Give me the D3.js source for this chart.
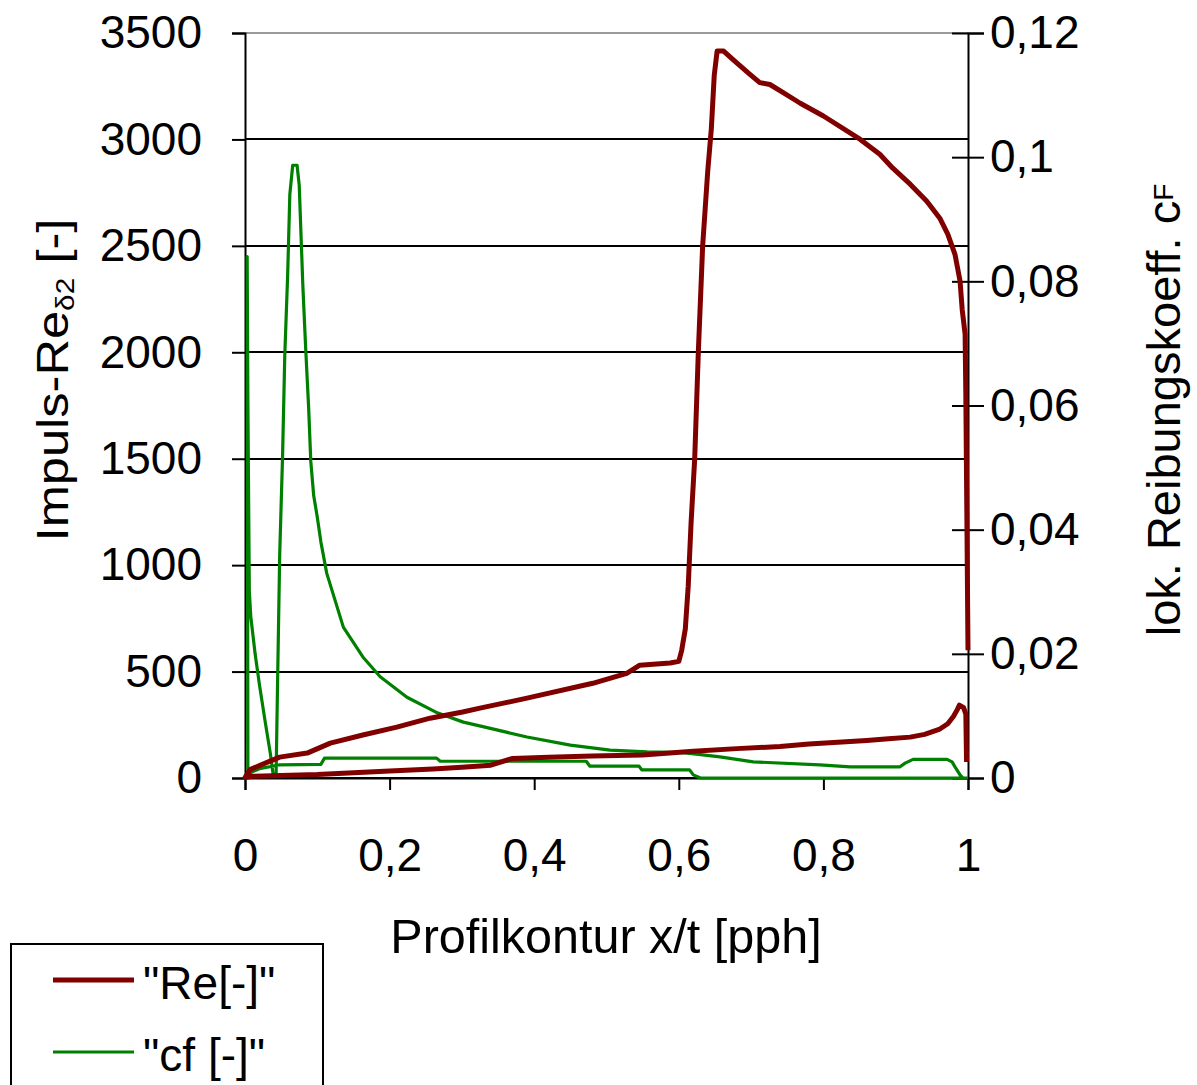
<!DOCTYPE html>
<html>
<head>
<meta charset="utf-8">
<script src="https://cdn.jsdelivr.net/npm/d3@7/dist/d3.min.js"></script>
<style>
  html, body { margin: 0; padding: 0; background: #fff; }
  svg { display: block; }
  text { font-family: "Liberation Sans", Arial, sans-serif; fill: #000; }
</style>
</head>
<body>
<svg id="chart" width="1197" height="1085"></svg>
<script>
// x/t positions and momentum Reynolds number, pressure side (trailing edge -> leading edge)
const rePressure = [
  [0.998, 75], [0.997, 300], [0.994, 330], [0.988, 342], [0.985, 320], [0.980, 290],
  [0.972, 255], [0.960, 228], [0.940, 205], [0.920, 192], [0.890, 184], [0.860, 176],
  [0.820, 168], [0.780, 160], [0.740, 148], [0.680, 138], [0.620, 126], [0.550, 108],
  [0.480, 103], [0.420, 98], [0.370, 92], [0.340, 60], [0.300, 50], [0.260, 42],
  [0.200, 33], [0.150, 25], [0.100, 16], [0.050, 12], [0.010, 8], [0.000, 2]
];
// suction side (leading edge -> trailing edge)
const reSuction = [
  [0.000, 2], [0.007, 40], [0.048, 98], [0.086, 117], [0.118, 164], [0.163, 202],
  [0.210, 239], [0.256, 281], [0.301, 310], [0.325, 328], [0.390, 375], [0.481, 445],
  [0.528, 492], [0.546, 530], [0.588, 540], [0.600, 548], [0.604, 600], [0.609, 700],
  [0.613, 900], [0.617, 1200], [0.622, 1500], [0.627, 2000], [0.633, 2500], [0.640, 2850],
  [0.645, 3050], [0.649, 3300], [0.653, 3415], [0.662, 3415], [0.675, 3375], [0.698, 3307],
  [0.712, 3267], [0.726, 3258], [0.745, 3219], [0.768, 3170], [0.800, 3110], [0.851, 3000],
  [0.878, 2930], [0.896, 2865], [0.920, 2790], [0.943, 2710], [0.961, 2630], [0.972, 2555],
  [0.982, 2460], [0.989, 2335], [0.992, 2200], [0.996, 2085], [0.997, 1800], [0.998, 1400],
  [0.999, 1000], [1.000, 600]
];
// local skin-friction coefficient, side A (trailing edge -> leading edge)
const cfSideA = [
  [1.000, 0], [0.630, 0], [0.620, 0.0005], [0.615, 0.0013], [0.549, 0.0013], [0.545, 0.0019],
  [0.477, 0.0019], [0.472, 0.0027], [0.270, 0.0027], [0.265, 0.0032], [0.110, 0.0032],
  [0.105, 0.0022], [0.047, 0.0021], [0.020, 0.0015], [0.010, 0.0010], [0.004, 0.0005]
];
// side B (leading edge -> trailing edge)
const cfSideB = [
  [0.003, 0.084], [0.004, 0.060], [0.006, 0.030], [0.008, 0.026], [0.014, 0.020],
  [0.020, 0.015], [0.028, 0.009], [0.035, 0.004], [0.039, 0.0005], [0.043, 0.0003],
  [0.045, 0.015], [0.048, 0.036], [0.052, 0.052], [0.055, 0.068], [0.059, 0.081],
  [0.062, 0.094], [0.066, 0.0987], [0.072, 0.0987], [0.075, 0.0955], [0.080, 0.0793],
  [0.084, 0.069], [0.088, 0.0597], [0.091, 0.051], [0.095, 0.0455], [0.100, 0.042],
  [0.105, 0.038], [0.113, 0.033], [0.136, 0.0243], [0.163, 0.0195], [0.187, 0.0163],
  [0.224, 0.013], [0.266, 0.0105], [0.302, 0.009], [0.332, 0.0082], [0.390, 0.0066],
  [0.450, 0.0053], [0.505, 0.0045], [0.556, 0.0042], [0.606, 0.0041], [0.657, 0.0034],
  [0.703, 0.0026], [0.795, 0.0021], [0.837, 0.0018], [0.906, 0.0018], [0.913, 0.0024],
  [0.924, 0.0030], [0.971, 0.0030], [0.978, 0.0026], [0.982, 0.0018], [0.989, 0.0005],
  [0.993, 0], [1.000, 0]
];

const xTicks = [0, 0.2, 0.4, 0.6, 0.8, 1];
const leftTicks = [0, 500, 1000, 1500, 2000, 2500, 3000, 3500];
const rightTicks = [0, 0.02, 0.04, 0.06, 0.08, 0.1, 0.12];
const seriesNames = ['"Re[-]"', '"cf [-]"'];
const seriesColors = ["#800000", "#008000"];

const plot = { left: 245, right: 968, top: 33, bottom: 778 };
const FS = 46;

const svg = d3.select("#chart");
const x = d3.scaleLinear().domain([0, 1]).range([plot.left, plot.right]);
const yL = d3.scaleLinear().domain([0, 3500]).range([plot.bottom, plot.top]);
const yR = d3.scaleLinear().domain([0, 0.12]).range([plot.bottom, plot.top]);

const locale = d3.formatLocale({ decimal: ",", thousands: ".", grouping: [3], currency: ["", "€"] });
const fmt = locale.format("~g");

// horizontal grid lines on the left-axis ticks
svg.append("g").selectAll("line")
  .data(leftTicks)
  .join("line")
  .attr("x1", plot.left).attr("x2", plot.right)
  .attr("y1", d => Math.round(yL(d))).attr("y2", d => Math.round(yL(d)))
  .attr("stroke", d => d === 3500 ? "#9a9a9a" : "#000")
  .attr("stroke-width", 2);

// left axis
const gL = svg.append("g").attr("transform", `translate(${plot.left},0)`)
  .call(d3.axisLeft(yL).tickValues(leftTicks).tickFormat(fmt).tickSize(13).tickPadding(30));
gL.select(".domain").attr("stroke", "#000").attr("stroke-width", 2);
gL.selectAll(".tick line").attr("stroke", "#000").attr("stroke-width", 2);
gL.selectAll(".tick text").attr("font-size", FS).attr("font-family", "Liberation Sans, Arial").attr("fill", "#000");

// right axis: ticks cross the axis line
const gR = svg.append("g").attr("transform", `translate(${plot.right},0)`)
  .call(d3.axisRight(yR).tickValues(rightTicks).tickFormat(fmt).tickSize(16).tickPadding(6));
gR.select(".domain").attr("stroke", "#000").attr("stroke-width", 2);
gR.selectAll(".tick line").attr("x1", -16).attr("stroke", "#000").attr("stroke-width", 2);
gR.selectAll(".tick text").attr("font-size", FS).attr("font-family", "Liberation Sans, Arial").attr("fill", "#000");

// bottom axis
const gB = svg.append("g").attr("transform", `translate(0,${plot.bottom})`)
  .call(d3.axisBottom(x).tickValues(xTicks).tickFormat(fmt).tickSize(12).tickPadding(48));
gB.select(".domain").attr("stroke", "#000").attr("stroke-width", 2);
gB.selectAll(".tick line").attr("stroke", "#000").attr("stroke-width", 2);
gB.selectAll(".tick text").attr("font-size", FS).attr("font-family", "Liberation Sans, Arial").attr("fill", "#000");

// curves
svg.append("defs").append("clipPath").attr("id", "plotClip")
  .append("rect").attr("x", plot.left - 4).attr("y", plot.top - 4)
  .attr("width", plot.right - plot.left + 8).attr("height", plot.bottom - plot.top + 8);

const lineRe = d3.line().x(d => x(d[0])).y(d => yL(d[1]));
const lineCf = d3.line().x(d => x(d[0])).y(d => yR(d[1]));
const curves = svg.append("g").attr("clip-path", "url(#plotClip)");

curves.append("path")
  .datum(cfSideA.concat(cfSideB))
  .attr("d", lineCf)
  .attr("fill", "none").attr("stroke", seriesColors[1]).attr("stroke-width", 3.2)
  .attr("stroke-linejoin", "round");

curves.append("path")
  .datum(rePressure.concat(reSuction))
  .attr("d", lineRe)
  .attr("fill", "none").attr("stroke", seriesColors[0]).attr("stroke-width", 5)
  .attr("stroke-linejoin", "round");

// axis titles
svg.append("text")
  .attr("transform", "translate(606,953)")
  .attr("text-anchor", "middle").attr("font-size", 48.5)
  .text("Profilkontur x/t [pph]");

const tL = svg.append("text")
  .attr("transform", "translate(68,380) rotate(-90) scale(1.15,1)")
  .attr("text-anchor", "middle").attr("font-size", FS - 2);
tL.append("tspan").text("Impuls-Re");
tL.append("tspan").attr("font-size", 26).attr("dy", 6).text("δ2");
tL.append("tspan").attr("dy", -6).text(" [-]");

const tR = svg.append("text")
  .attr("transform", "translate(1180,410) rotate(-90)")
  .attr("text-anchor", "middle").attr("font-size", 47);
tR.append("tspan").text("lok. Reibungskoeff. c");
tR.append("tspan").attr("font-size", 28).attr("dy", -7).text("F");

// legend
const legend = svg.append("g");
legend.append("rect")
  .attr("x", 11).attr("y", 944).attr("width", 312).attr("height", 200)
  .attr("fill", "#fff").attr("stroke", "#000").attr("stroke-width", 2);
const legendRows = legend.selectAll("g.row")
  .data(seriesNames)
  .join("g").attr("class", "row")
  .attr("transform", (d, i) => `translate(0,${980 + i * 72})`);
legendRows.append("line")
  .attr("x1", 53).attr("x2", 134).attr("y1", 0).attr("y2", 0)
  .attr("stroke", (d, i) => seriesColors[i])
  .attr("stroke-width", (d, i) => i === 0 ? 5 : 3.2);
legendRows.append("text")
  .attr("x", 143).attr("y", 19)
  .attr("font-size", FS)
  .text(d => d);
</script>
</body>
</html>
